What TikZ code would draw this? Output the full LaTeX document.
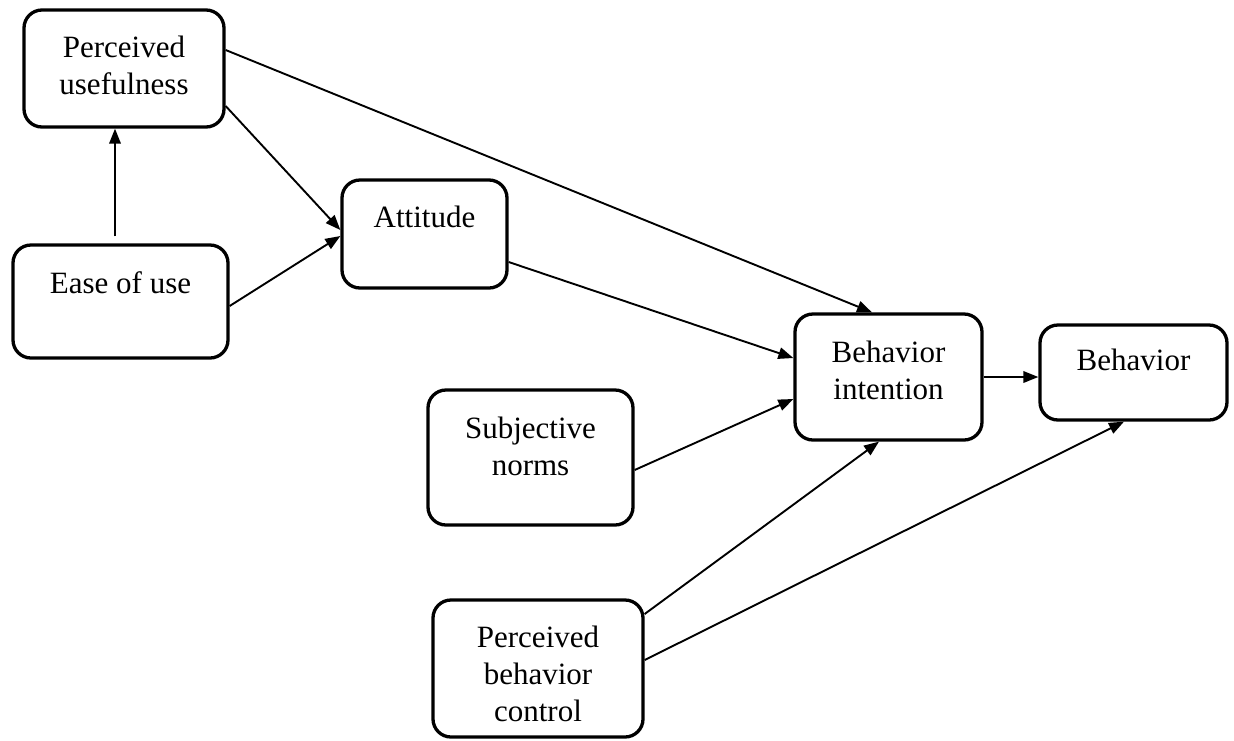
\documentclass[tikz,border=0pt]{standalone}
\usepackage{fontspec}
\setmainfont{Liberation Serif}
\usetikzlibrary{arrows.meta}
\begin{document}
\begin{tikzpicture}[x=1pt,y=-1pt,
  box/.style={draw, rectangle, rounded corners=18pt, line width=3.3pt, inner sep=0pt},
  txt/.style={align=center, inner sep=0pt, font=\fontsize{31}{37}\selectfont},
  link/.style={line width=1.9pt, -{Triangle[length=15pt,width=11.5pt]}}]
\useasboundingbox (0,0) rectangle (1234,740);

% boxes
\node[box, minimum width=200pt, minimum height=117pt] (pu)  at (124,68.5)   {};
\node[box, minimum width=215pt, minimum height=113pt] (eou) at (120.5,301.5) {};
\node[box, minimum width=165pt, minimum height=108pt] (att) at (424.5,234)  {};
\node[box, minimum width=187pt, minimum height=126pt] (bi)  at (888.5,377)  {};
\node[box, minimum width=187pt, minimum height=95pt]  (beh) at (1133.5,372.5) {};
\node[box, minimum width=205pt, minimum height=135pt] (sn)  at (530.5,457.5) {};
\node[box, minimum width=210pt, minimum height=137pt] (pbc) at (538,668.5)  {};

% labels
\node[txt] (put)  at (124,65)    {Perceived\\usefulness};
\node[txt] (eout) at (120.5,283) {Ease of use};
\node[txt] (attt) at (424.5,217) {Attitude};
\node[txt] (bit)  at (888.5,370) {Behavior\\intention};
\node[txt] (beht) at (1133.5,360) {Behavior};
\node[txt] (snt)  at (530.5,446) {Subjective\\norms};
\node[txt] (pbct) at (538,674)   {Perceived\\behavior\\control};

% connectors
\draw[link, shorten <=7pt] (eou.north -| 115,0) -- (pu.south -| 115,0);
\draw[link] (pu.east |- 0,106) -- (att.west |- 0,230);
\draw[link] (eou.east |- 0,306) -- (att.west |- 0,236);
\draw[link] (pu.east |- 0,50) -- (bi.north -| 872,0);
\draw[link] (att.east |- 0,262) -- (bi.west |- 0,358);
\draw[link] (sn.east |- 0,470) -- (bi.west |- 0,399);
\draw[link] (pbc.east |- 0,614) -- (bi.south -| 879,0);
\draw[link] (pbc.east |- 0,660) -- (beh.south -| 1124,0);
\draw[link] (bi.east |- 0,377) -- (beh.west |- 0,377);
\end{tikzpicture}
\end{document}
